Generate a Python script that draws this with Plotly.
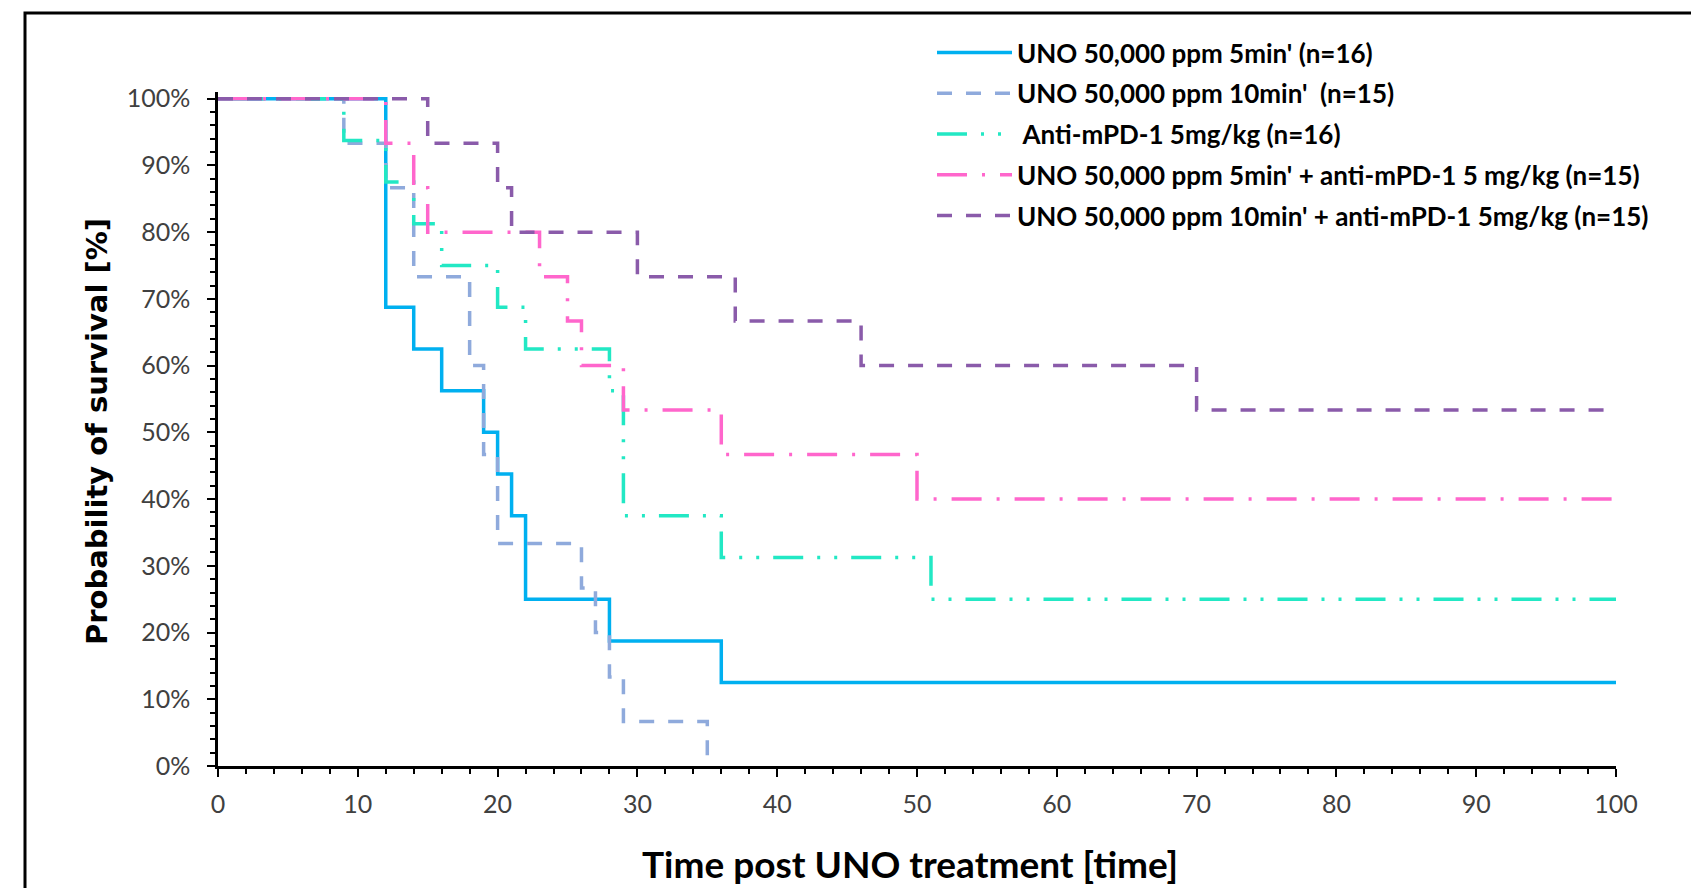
import plotly.graph_objects as go

# ---- data (time in days, survival in %) ----
uno5_t = [0, 12, 14, 16, 19, 20, 21, 22, 28, 36, 100]
uno5_s = [100, 68.75, 62.5, 56.25, 50, 43.75, 37.5, 25, 18.75, 12.5, 12.5]

uno10_t = [0, 9, 12, 14, 18, 19, 20, 26, 27, 28, 29, 35]
uno10_s = [100, 93.33, 86.67, 73.33, 60, 46.67, 33.33, 26.67, 20, 13.33, 6.67, 0]

apd1_t = [0, 9, 12, 14, 16, 20, 22, 28, 29, 36, 51, 100]
apd1_s = [100, 93.75, 87.5, 81.25, 75, 68.75, 62.5, 56.25, 37.5, 31.25, 25, 25]

uno5_apd1_t = [0, 12, 14, 15, 23, 25, 26, 29, 36, 50, 100]
uno5_apd1_s = [100, 93.33, 86.67, 80, 73.33, 66.67, 60, 53.33, 46.67, 40, 40]

uno10_apd1_t = [0, 15, 20, 21, 30, 37, 46, 70, 100]
uno10_apd1_s = [100, 93.33, 86.67, 80, 73.33, 66.67, 60, 53.33, 53.33]

names = [
    "UNO 50,000 ppm 5min' (n=16)",
    "UNO 50,000 ppm 10min'  (n=15)",
    " Anti-mPD-1 5mg/kg (n=16)",
    "UNO 50,000 ppm 5min' + anti-mPD-1 5 mg/kg (n=15)",
    "UNO 50,000 ppm 10min' + anti-mPD-1 5mg/kg (n=15)",
]
x_ticks = [0, 10, 20, 30, 40, 50, 60, 70, 80, 90, 100]
y_ticks = [0, 10, 20, 30, 40, 50, 60, 70, 80, 90, 100]

series = [
    (uno5_t, uno5_s, "#00B0F0", "solid"),
    (uno10_t, uno10_s, "#8FAADC", "15px,14px"),
    (apd1_t, apd1_s, "#22E8C4", "30px,14px,3px,14px,3px,14px"),
    (uno5_apd1_t, uno5_apd1_s, "#FF66CC", "30px,15px,3px,15px"),
    (uno10_apd1_t, uno10_apd1_s, "#8A5BAA", "15px,14px"),
]

fig = go.Figure()
for i, (t, s, c, d) in enumerate(series):
    fig.add_trace(go.Scatter(
        x=t, y=s, mode="lines", name=names[i], legendgroup=f"g{i}",
        line=dict(color=c, width=3.5, dash=d, shape="hv"),
    ))

OFF = 8  # page body margin
W, H = 1699 - OFF, 888 - OFF
L, R, T, B = 210, 83, 84, 122
pw = W - L - R
ph = H - T - B

def px_x(p):
    return (p - OFF - L) / pw

def px_y(p):
    return (H - B - (p - OFF)) / ph

fig.update_layout(
    width=W, height=H,
    margin=dict(l=L, r=R, t=T, b=B),
    plot_bgcolor="white", paper_bgcolor="white",
    font=dict(family="Lato", color="#404040"),
    showlegend=True,
    legend=dict(
        x=px_x(932), y=px_y(29), xanchor="left", yanchor="top",
        font=dict(family="Lato", size=26, color="black", weight="bold"),
        itemwidth=75, tracegroupgap=4, bgcolor="rgba(0,0,0,0)",
    ),
    xaxis=dict(
        range=[0, 100], tickvals=x_ticks, ticktext=[str(v) for v in x_ticks],
        showline=True, linecolor="black", linewidth=2.5, showgrid=False, zeroline=False,
        ticks="outside", ticklen=8, tickwidth=2, tickcolor="black",
        tickfont=dict(family="Lato", size=25, color="#404040"),
        ticklabelstandoff=6,
        minor=dict(ticks="outside", ticklen=5, tickwidth=2, tickcolor="black", dtick=2, showgrid=False),
    ),
    yaxis=dict(
        range=[0, 101], tickvals=y_ticks, ticktext=[f"{v}%" for v in y_ticks],
        showline=True, linecolor="black", linewidth=2.5, showgrid=False, zeroline=False,
        ticks="outside", ticklen=8, tickwidth=2, tickcolor="black",
        tickfont=dict(family="Lato", size=25, color="#404040"),
        ticklabelstandoff=12,
        minor=dict(ticks="outside", ticklen=5, tickwidth=2, tickcolor="black", dtick=2, showgrid=False),
    ),
    shapes=[dict(type="rect", xref="paper", yref="paper",
                 x0=px_x(25), x1=1.3, y0=-0.4, y1=px_y(13),
                 line=dict(color="black", width=3), fillcolor="rgba(0,0,0,0)", layer="above")],
    annotations=[
        dict(text="Time post UNO treatment [time]", xref="paper", yref="paper",
             x=px_x(910), y=px_y(863), xanchor="center", yanchor="middle", showarrow=False,
             font=dict(family="Lato", size=37, color="black", weight="bold")),
        dict(text="Probability of survival [%]", xref="paper", yref="paper",
             x=px_x(97), y=px_y(432), xanchor="center", yanchor="middle", showarrow=False,
             textangle=-90,
             font=dict(family="DejaVu Sans", size=29, color="black", weight="bold")),
    ],
)

fig.write_html("out.html")
